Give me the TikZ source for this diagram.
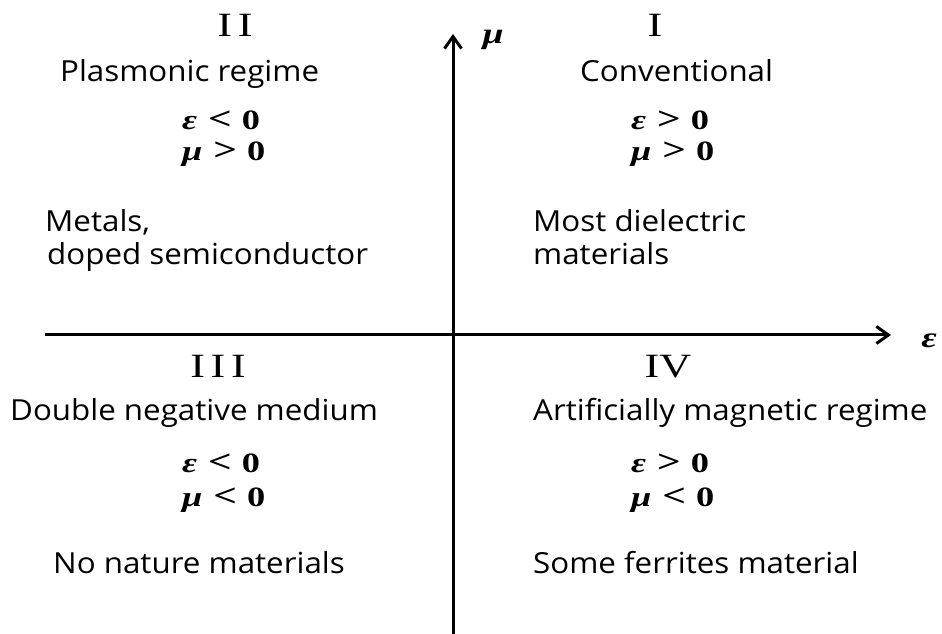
\documentclass[tikz,border=0pt]{standalone}
\usepackage{fontspec}
\usepackage{tikz}
\usetikzlibrary{arrows.meta}
\newfontfamily\labelfont{Open Sans}[FakeStretch=1.08]
\newfontfamily\relfont{Liberation Serif}[FakeStretch=1.3]
\newcommand{\gk}[1]{{\bfseries\itshape #1}}
\newcommand{\rel}[1]{\kern11pt{\fontsize{32}{32}\selectfont #1}\kern10pt}

\tikzset{
  quadtext/.style={font=\labelfont\fontsize{29}{33}\selectfont, anchor=base west, inner sep=0pt},
  relation/.style={font=\relfont\bfseries\fontsize{28}{30}\selectfont, anchor=base west, inner sep=0pt},
  numeral/.style={font=\relfont\fontsize{34}{36}\selectfont, anchor=base, inner sep=0pt},
  axislabel/.style={font=\relfont\fontsize{29}{30}\selectfont, inner sep=0pt},
  axisline/.style={line width=3pt, -{Straight Barb[length=12pt,width=17pt]}}
}

\begin{document}
\begin{tikzpicture}[x=1pt, y=1pt]
  \useasboundingbox (0,0) rectangle (942,634);

  % axes
  \coordinate (ybot) at (453,0);
  \coordinate (ytop) at (453,600);
  \coordinate (xleft) at (45,299);
  \coordinate (xright) at (891,299);
  \draw[axisline] (xleft) -- (xright);
  \draw[axisline] (ybot) -- (ytop);
  \node[axislabel] (mulabel) at (493,594) {\gk{μ}};
  \node[axislabel] (epslabel) at (929,293) {\gk{ε}};

  % quadrant II
  \node[numeral] (numII) at (235,597) {I\,I};
  \node[quadtext] (plasmonic) at (60,552) {Plasmonic regime};
  \node[relation] (epsII) at (182,504) {\gk{ε}\rel{<}0};
  \node[relation] (muII) at (182,473) {\gk{μ}\rel{>}0};
  \node[quadtext] (metals) at (45,402) {Metals,};
  \node[quadtext] (doped) at (47,369) {doped semiconductor};

  % quadrant I
  \node[numeral] (numI) at (655,597) {I};
  \node[quadtext] (conventional) at (580,552) {Conventional};
  \node[relation] (epsI) at (631,504) {\gk{ε}\rel{>}0};
  \node[relation] (muI) at (631,473) {\gk{μ}\rel{>}0};
  \node[quadtext] (dielectric) at (533,402) {Most dielectric};
  \node[quadtext] (materialsI) at (533,369) {materials};

  % quadrant III
  \node[numeral] (numIII) at (218,256) {I\,I\,I};
  \node[quadtext] (doubleneg) at (10,213) {Double negative medium};
  \node[relation] (epsIII) at (182,161) {\gk{ε}\rel{<}0};
  \node[relation] (muIII) at (182,127) {\gk{μ}\rel{<}0};
  \node[quadtext] (nonature) at (53,60) {No nature materials};

  % quadrant IV
  \node[numeral] (numIV) at (668,256) {IV};
  \node[quadtext] (magnetic) at (533,213) {Artificially magnetic regime};
  \node[relation] (epsIV) at (631,161) {\gk{ε}\rel{>}0};
  \node[relation] (muIV) at (631,127) {\gk{μ}\rel{<}0};
  \node[quadtext] (ferrites) at (533,60) {Some ferrites material};
\end{tikzpicture}
\end{document}
